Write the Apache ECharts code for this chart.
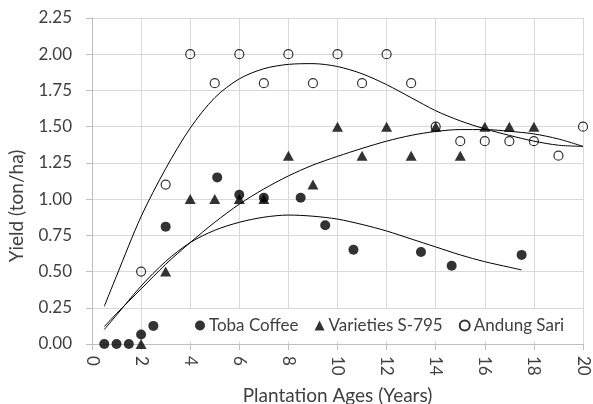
<!DOCTYPE html>
<html>
<head>
<meta charset="utf-8">
<script src="https://cdn.jsdelivr.net/npm/echarts@6/dist/echarts.min.js"></script>
<style>
  html, body { margin: 0; padding: 0; background: #fff; overflow: hidden; }
  #chart { width: 593px; height: 404px; }
</style>
</head>
<body>
<div id="chart"></div>
<script>
// Yield observations per variety (x = plantation age in years, y = ton/ha)
const tobaX = [0.5, 1, 1.5, 2, 2.5, 3, 5.1, 6, 7, 8.5, 9.5, 10.65, 13.4, 14.65, 17.5];
const tobaY = [0, 0, 0, 0.065, 0.125, 0.81, 1.15, 1.03, 1.01, 1.01, 0.82, 0.65, 0.635, 0.54, 0.615];

const varX = [2, 3, 4, 5, 6, 7, 8, 9, 10, 11, 12, 13, 14, 15, 16, 17, 18];
const varY = [0, 0.5, 1, 1, 1, 1, 1.3, 1.1, 1.5, 1.3, 1.5, 1.3, 1.5, 1.3, 1.5, 1.5, 1.5];

const andX = [2, 3, 4, 5, 6, 7, 8, 9, 10, 11, 12, 13, 14, 15, 16, 17, 18, 19, 20];
const andY = [0.5, 1.1, 2, 1.8, 2, 1.8, 2, 1.8, 2, 1.8, 2, 1.8, 1.5, 1.4, 1.4, 1.4, 1.4, 1.3, 1.5];

// Trend curves for each variety
const tobaTrendX = [0.5, 1, 2, 3, 4, 5, 6, 7, 8, 9, 10, 11, 12, 13, 14, 15, 16, 17, 17.5];
const tobaTrendY = [0.10, 0.20, 0.40, 0.57, 0.70, 0.785, 0.84, 0.875, 0.89, 0.882, 0.862, 0.825, 0.78, 0.725, 0.67, 0.615, 0.568, 0.53, 0.511];

const varTrendX = [0.5, 1, 2, 3, 4, 5, 6, 7, 8, 9, 10, 11, 12, 13, 14, 15, 16, 17, 18, 19, 20];
const varTrendY = [0.12, 0.21, 0.38, 0.55, 0.70, 0.84, 0.965, 1.07, 1.16, 1.235, 1.295, 1.35, 1.40, 1.44, 1.467, 1.48, 1.48, 1.468, 1.45, 1.415, 1.364];

const andTrendX = [0.5, 1, 2, 3, 4, 5, 6, 7, 8, 9, 10, 11, 12, 13, 14, 15, 16, 17, 18, 19, 20];
const andTrendY = [0.26, 0.47, 0.88, 1.21, 1.49, 1.70, 1.83, 1.90, 1.93, 1.935, 1.915, 1.865, 1.79, 1.70, 1.61, 1.54, 1.485, 1.44, 1.40, 1.372, 1.364];

// Axis ticks
const xTicks = { min: 0, max: 20, interval: 2 };
const yTicks = { min: 0, max: 2.25, interval: 0.25 };

const pairs = (xs, ys) => xs.map((x, i) => [x, ys[i]]);

const FONT = 'Lato';
const TEXT = '#404040';
const GRID = '#d9d9d9';
const AXIS = '#bfbfbf';

function trend(xs, ys) {
  return {
    type: 'line',
    data: pairs(xs, ys),
    showSymbol: false,
    smooth: 0.3,
    silent: true,
    z: 4,
    lineStyle: { color: '#000', width: 1 },
    legendHoverLink: false
  };
}

const chart = echarts.init(document.getElementById('chart'), null, { renderer: 'canvas' });
chart.setOption({
  animation: false,
  backgroundColor: '#fff',
  textStyle: { fontFamily: FONT },
  grid: { left: 92, right: 10, top: 18, bottom: 60, containLabel: false, outerBoundsMode: 'none' },
  xAxis: {
    type: 'value',
    min: xTicks.min, max: xTicks.max, interval: xTicks.interval,
    name: 'Plantation Ages (Years)',
    nameLocation: 'middle',
    nameGap: 42,
    nameTextStyle: { fontFamily: FONT, fontSize: 19, color: TEXT },
    axisLine: { show: true, lineStyle: { color: AXIS, width: 1 } },
    axisTick: { show: true, length: 6, lineStyle: { color: AXIS } },
    splitLine: { show: true, lineStyle: { color: GRID, width: 1 } },
    axisLabel: { rotate: -90, margin: 12, fontFamily: FONT, fontSize: 17, color: TEXT }
  },
  yAxis: {
    type: 'value',
    min: yTicks.min, max: yTicks.max, interval: yTicks.interval,
    name: 'Yield (ton/ha)',
    nameLocation: 'middle',
    nameGap: 66,
    nameTextStyle: { fontFamily: FONT, fontSize: 19, color: TEXT, padding: [0, 50, 0, 0] },
    axisLine: { show: true, lineStyle: { color: AXIS, width: 1 } },
    axisTick: { show: true, length: 6, lineStyle: { color: AXIS } },
    splitLine: { show: true, lineStyle: { color: GRID, width: 1 } },
    axisLabel: {
      margin: 20, fontFamily: FONT, fontSize: 17, color: TEXT,
      formatter: v => v.toFixed(2)
    }
  },
  legend: {
    data: [
      { name: 'Toba Coffee', icon: 'circle' },
      { name: 'Varieties S-795', icon: 'triangle' },
      { name: 'Andung Sari', icon: 'circle' }
    ],
    left: 172,
    top: 309,
    padding: [8, 8, 7, 23],
    backgroundColor: '#fff',
    itemWidth: 10,
    itemHeight: 10,
    itemGap: 16,
    textStyle: { fontFamily: FONT, fontSize: 17, color: TEXT, padding: [0, 0, 0, -1] }
  },
  series: [
    {
      name: 'Toba Coffee',
      type: 'scatter',
      data: pairs(tobaX, tobaY),
      symbol: 'circle',
      symbolSize: 10,
      z: 3,
      itemStyle: { color: '#000' }
    },
    {
      name: 'Varieties S-795',
      type: 'scatter',
      data: pairs(varX, varY),
      symbol: 'triangle',
      symbolSize: [11, 10],
      z: 2,
      itemStyle: { color: '#000' }
    },
    {
      name: 'Andung Sari',
      type: 'scatter',
      data: pairs(andX, andY),
      symbol: 'circle',
      symbolSize: 9,
      z: 3,
      itemStyle: { color: 'rgba(255,255,255,0)', borderColor: '#000', borderWidth: 1.2 }
    },
    trend(tobaTrendX, tobaTrendY),
    trend(varTrendX, varTrendY),
    trend(andTrendX, andTrendY)
  ]
});
</script>
</body>
</html>
